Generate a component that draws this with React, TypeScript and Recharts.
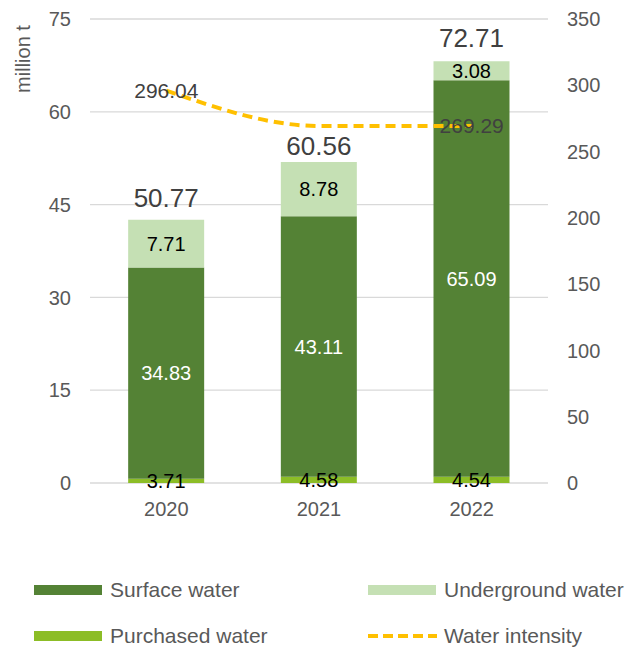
import React from 'react';
import {
  ComposedChart,
  Bar,
  Line,
  XAxis,
  YAxis,
  CartesianGrid,
  LabelList,
  Legend,
} from 'recharts';

// ---- data ----
const years = ['2020', '2021', '2022'];
const purchasedWater = [3.71, 4.58, 4.54]; // labelled values
const purchasedDrawn = [0.7, 1.0, 1.0]; // drawn segment height (million t)
const surfaceWater = [34.83, 43.11, 65.09];
const undergroundWater = [7.71, 8.78, 3.08];
const totalWater = [50.77, 60.56, 72.71];
const waterIntensity = [296.04, 269.3, 269.29];
const intensityLabels = ['296.04', null, '269.29'];
const leftTicks = [0, 15, 30, 45, 60, 75];
const rightTicks = [0, 50, 100, 150, 200, 250, 300, 350];

const COLORS = {
  surface: '#548235',
  underground: '#C5E0B4',
  purchased: '#8CBD26',
  intensity: '#FFC000',
  grid: '#D9D9D9',
  axisText: '#595959',
  label: '#404040',
};

const data = years.map((year, i) => ({
  year,
  purchased: purchasedDrawn[i],
  purchasedLabel: purchasedWater[i],
  surface: +(surfaceWater[i] - purchasedDrawn[i]).toFixed(2),
  surfaceLabel: surfaceWater[i],
  underground: undergroundWater[i],
  total: totalWater[i],
  intensity: waterIntensity[i],
  intensityLabel: intensityLabels[i],
}));

const totalNudge = [13, 7, 14];

const TotalLabel = (props: any) => {
  const vb = props.viewBox ?? props;
  const x = vb.x ?? props.x;
  const y = vb.y ?? props.y;
  const width = vb.width ?? props.width ?? 0;
  let idx = typeof props.index === 'number' ? props.index : totalWater.indexOf(Number(props.value));
  if (idx < 0) idx = 0;
  return (
    <text
      x={x + width / 2}
      y={y - totalNudge[idx]}
      textAnchor="middle"
      fontSize={26}
      fill={COLORS.label}
    >
      {props.value}
    </text>
  );
};

const legendItems = [
  { label: 'Surface water', color: COLORS.surface, kind: 'rect', col: 0, row: 0 },
  { label: 'Underground water', color: COLORS.underground, kind: 'rect', col: 1, row: 0 },
  { label: 'Purchased water', color: COLORS.purchased, kind: 'rect', col: 0, row: 1 },
  { label: 'Water intensity', color: COLORS.intensity, kind: 'line', col: 1, row: 1 },
];

const LegendContent = () => (
  <svg width={628} height={80} style={{ display: 'block' }}>
    {legendItems.map((it) => {
      const sx = it.col === 0 ? 34 : 368;
      const cy = it.row === 0 ? 20 : 66;
      return (
        <g key={it.label}>
          {it.kind === 'rect' ? (
            <rect x={sx} y={cy - 5} width={68} height={10} fill={it.color} />
          ) : (
            <line
              x1={sx}
              x2={sx + 69}
              y1={cy}
              y2={cy}
              stroke={it.color}
              strokeWidth={4}
              strokeDasharray="10 5"
            />
          )}
          <text x={sx + 76} y={cy} dy="0.35em" fontSize={21} fill={COLORS.axisText}>
            {it.label}
          </text>
        </g>
      );
    })}
  </svg>
);

const MillionLabel = (props: any) => {
  const vb = props.viewBox ?? {};
  const x = (vb.x ?? 0) + 23;
  const y = (vb.y ?? 19) + 40;
  return (
    <text
      x={x}
      y={y}
      transform={`rotate(-90, ${x}, ${y})`}
      textAnchor="middle"
      dominantBaseline="central"
      fontSize={20}
      fill={COLORS.axisText}
    >
      million t
    </text>
  );
};

export default function App() {
  return (
    <div
      style={{
        position: 'absolute',
        left: 0,
        top: 0,
        width: 628,
        height: 648,
        background: '#ffffff',
        fontFamily: '"Liberation Sans", Arial, sans-serif',
      }}
    >
      <ComposedChart
        width={628}
        height={648}
        data={data}
        margin={{ top: 19, right: 0, bottom: 125, left: 0 }}
        barCategoryGap="25%"
      >
        <CartesianGrid yAxisId="left" vertical={false} stroke={COLORS.grid} strokeWidth={1.3} />
        <XAxis
          dataKey="year"
          axisLine={false}
          tickLine={false}
          tickSize={0}
          tickMargin={19}
          height={40}
          tick={{ fill: COLORS.axisText, fontSize: 20 }}
          interval={0}
        />
        <YAxis
          yAxisId="left"
          domain={[0, 75]}
          ticks={leftTicks}
          axisLine={false}
          tickLine={false}
          tickSize={0}
          tickMargin={19}
          width={90}
          tick={{ fill: COLORS.axisText, fontSize: 20 }}
          label={<MillionLabel />}
        />
        <YAxis
          yAxisId="right"
          orientation="right"
          domain={[0, 350]}
          ticks={rightTicks}
          axisLine={false}
          tickLine={false}
          tickSize={0}
          tickMargin={19}
          width={80}
          tick={{ fill: COLORS.axisText, fontSize: 20 }}
        />
        <Bar
          yAxisId="left"
          dataKey="purchased"
          name="Purchased water"
          stackId="water"
          fill={COLORS.purchased}
          isAnimationActive={false}
        >
          <LabelList dataKey="purchasedLabel" position="center" fill="#000000" fontSize={20} />
        </Bar>
        <Bar
          yAxisId="left"
          dataKey="surface"
          name="Surface water"
          stackId="water"
          fill={COLORS.surface}
          isAnimationActive={false}
        >
          <LabelList dataKey="surfaceLabel" position="center" fill="#ffffff" fontSize={20} />
        </Bar>
        <Bar
          yAxisId="left"
          dataKey="underground"
          name="Underground water"
          stackId="water"
          fill={COLORS.underground}
          isAnimationActive={false}
        >
          <LabelList dataKey="underground" position="center" fill="#000000" fontSize={20} />
          <LabelList dataKey="total" content={<TotalLabel />} />
        </Bar>
        <Line
          yAxisId="right"
          type="monotone"
          dataKey="intensity"
          name="Water intensity"
          stroke={COLORS.intensity}
          strokeWidth={4}
          strokeDasharray="10 6"
          dot={false}
          activeDot={false}
          isAnimationActive={false}
        >
          <LabelList dataKey="intensityLabel" position="center" fill={COLORS.label} fontSize={21} />
        </Line>
        <Legend
          layout="horizontal"
          verticalAlign="middle"
          align="center"
          wrapperStyle={{ top: 570, left: 0, width: 628, height: 80 }}
          content={<LegendContent />}
        />
      </ComposedChart>
    </div>
  );
}
